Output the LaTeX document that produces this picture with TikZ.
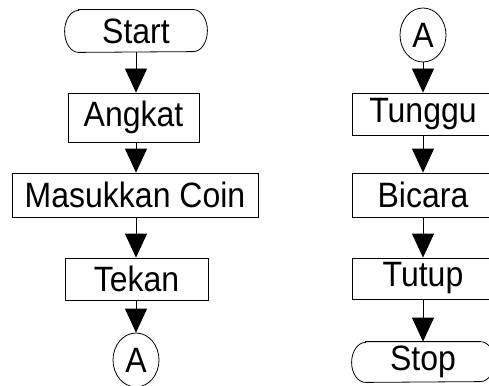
\documentclass[tikz,border=0pt]{standalone}
\usepackage{fontspec}
\setmainfont{Liberation Sans}
\usetikzlibrary{arrows.meta,shapes.geometric}
% labels are set slightly tall and narrow
\newcommand{\lbl}[1]{\scalebox{1}[1.1]{#1}}
\begin{document}
\begin{tikzpicture}[x=1pt,y=-1pt,
  every node/.style={font=\fontsize{32}{32}\selectfont, inner sep=0pt, line width=0.8pt},
  procbox/.style={draw, rectangle, minimum width=#1, minimum height=44pt},
  procbox/.default=142pt,
  termnode/.style={rectangle, minimum width=142pt, minimum height=42pt},
  connector/.style={draw, ellipse, minimum width=46pt, minimum height=54pt},
  flow/.style={line width=0.8pt, -{Triangle[width=22pt,length=24pt]}},
  stadium/.style={line width=0.8pt}
]
\useasboundingbox (0,0) rectangle (489,385);

% left column
\node[termnode] (start) at (136,31) {\lbl{Start}};
\node[procbox=131pt, minimum height=49pt] (angkat) at (133.5,117.5) {\lbl{Angkat}};
\node[procbox=246pt] (masuk) at (135,195) {\lbl{Masukkan Coin}};
\node[procbox=143pt, minimum height=42pt] (tekan) at (136.5,279) {\lbl{Tekan}};
\node[connector] (a1) at (136,360) {\lbl{A}};

% right column
\node[connector] (a2) at (423,35) {\lbl{A}};
\node[procbox=142pt, minimum height=42pt] (tunggu) at (423,114) {\lbl{Tunggu}};
\node[procbox=142pt] (bicara) at (423,195) {\lbl{Bicara}};
\node[procbox=142pt, minimum height=41pt] (tutup) at (423,278.5) {\lbl{Tutup}};
\node[termnode, minimum height=40pt] (stop) at (423,362) {\lbl{Stop}};

% terminal outlines: straight top and bottom, elliptical ends
\draw[stadium] ([xshift=14pt]start.north west) -- ([xshift=-14pt]start.north east)
  arc[start angle=90,end angle=-90,x radius=14pt,y radius=21pt]
  -- ([xshift=14pt]start.south west)
  arc[start angle=270,end angle=90,x radius=14pt,y radius=21pt] -- cycle;
\draw[stadium] ([xshift=14pt]stop.north west) -- ([xshift=-14pt]stop.north east)
  arc[start angle=90,end angle=-90,x radius=14pt,y radius=20pt]
  -- ([xshift=14pt]stop.south west)
  arc[start angle=270,end angle=90,x radius=14pt,y radius=20pt] -- cycle;

% connectors (left column runs straight down from Start)
\draw[flow] (start.south) -- (angkat.north -| start.south);
\draw[flow] (angkat.south -| start.south) -- (masuk.north -| start.south);
\draw[flow] (masuk.south -| start.south) -- (tekan.north -| start.south);
\draw[flow] (tekan.south -| start.south) -- (a1.north);
\draw[flow] (a2) -- (tunggu);
\draw[flow] (tunggu) -- (bicara);
\draw[flow] (bicara) -- (tutup);
\draw[flow] (tutup) -- (stop);
\end{tikzpicture}
\end{document}
